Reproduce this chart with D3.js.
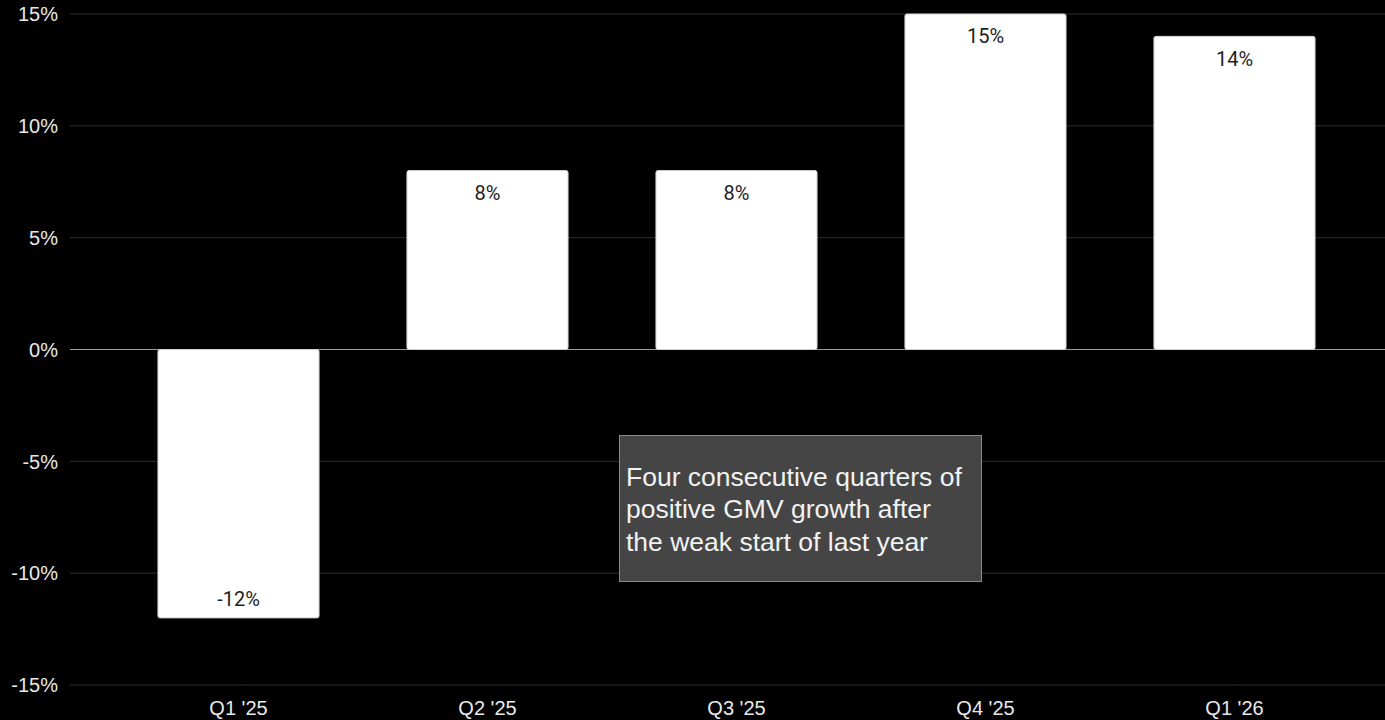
<!DOCTYPE html>
<html>
<head>
<meta charset="utf-8">
<script src="https://cdn.jsdelivr.net/npm/d3@7"></script>
<style>
  html, body { margin: 0; padding: 0; background: #000; }
  svg { display: block; }
</style>
</head>
<body>
<svg id="chart" width="1385" height="720"></svg>
<script>
// Quarterly GMV growth, year over year (%)
const quarters = ["Q1 '25", "Q2 '25", "Q3 '25", "Q4 '25", "Q1 '26"];
const growth = [-12, 8, 8, 15, 14];
const yTicks = [-15, -10, -5, 0, 5, 10, 15];
const noteLines = [
  "Four consecutive quarters of",
  "positive GMV growth after",
  "the weak start of last year"
];

const W = 1385, H = 720;
const svg = d3.select("#chart");
svg.append("rect").attr("width", W).attr("height", H).attr("fill", "#000");

const gridLeft = 70, gridRight = W;
const y = d3.scaleLinear().domain([-15, 15]).range([685, 14]);
const x = d3.scaleBand().domain(quarters).range([114, 1359])
  .paddingInner(0.353).paddingOuter(0.1765);

// horizontal grid lines
svg.append("g").selectAll("line").data(yTicks).join("line")
  .attr("x1", gridLeft).attr("x2", gridRight)
  .attr("y1", d => y(d)).attr("y2", d => y(d))
  .attr("stroke", d => d === 0 ? "#9a9a9a" : "#2e2e2e")
  .attr("stroke-width", 1);

// y tick labels
svg.append("g").selectAll("text").data(yTicks).join("text")
  .attr("x", 58).attr("y", d => y(d))
  .attr("dy", "0.36em")
  .attr("text-anchor", "end")
  .attr("fill", "#e8e8e8")
  .attr("font-family", "Liberation Sans, Arial, sans-serif")
  .attr("font-size", 20)
  .text(d => d + "%");

// bars
const data = quarters.map((q, i) => ({ q, v: growth[i] }));
svg.append("g").selectAll("rect").data(data).join("rect")
  .attr("x", d => x(d.q))
  .attr("width", x.bandwidth())
  .attr("y", d => Math.min(y(d.v), y(0)))
  .attr("height", d => Math.abs(y(d.v) - y(0)))
  .attr("rx", 2)
  .attr("fill", "#fff")
  .attr("stroke", "#cfcfcf")
  .attr("stroke-width", 1);

// value labels inside bar ends
svg.append("g").selectAll("text").data(data).join("text")
  .attr("x", d => x(d.q) + x.bandwidth() / 2)
  .attr("y", d => d.v >= 0 ? y(d.v) + 22 : y(d.v) - 19)
  .attr("dy", "0.36em")
  .attr("text-anchor", "middle")
  .attr("fill", "#1e1e1e")
  .attr("font-family", "Roboto, sans-serif")
  .attr("font-size", 20)
  .text(d => d.v + "%");

// category labels
svg.append("g").selectAll("text").data(quarters).join("text")
  .attr("x", d => x(d) + x.bandwidth() / 2)
  .attr("y", 708)
  .attr("dy", "0.36em")
  .attr("text-anchor", "middle")
  .attr("fill", "#e8e8e8")
  .attr("font-family", "Liberation Sans, Arial, sans-serif")
  .attr("font-size", 20)
  .text(d => d);

// annotation box
const note = svg.append("g");
note.append("rect")
  .attr("x", 619.5).attr("y", 435.5)
  .attr("width", 362).attr("height", 146)
  .attr("fill", "#454545")
  .attr("stroke", "#8a8a8a")
  .attr("stroke-width", 1);
note.selectAll("text").data(noteLines).join("text")
  .attr("x", 626)
  .attr("y", (d, i) => 476 + i * 32.5)
  .attr("dy", "0.36em")
  .attr("fill", "#f2f2f2")
  .attr("font-family", "Liberation Sans, Arial, sans-serif")
  .attr("font-size", 26.5)
  .text(d => d);
</script>
</body>
</html>
